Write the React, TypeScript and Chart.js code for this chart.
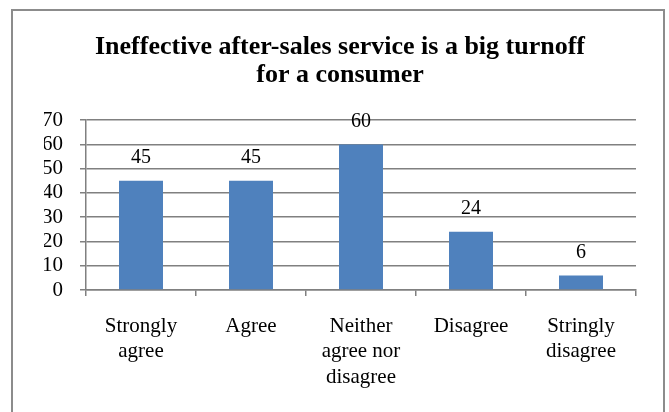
import React, { useEffect, useRef } from "react";
import { Chart, registerables } from "chart.js";

Chart.register(...registerables);

const titleLines = ["Ineffective after-sales service is a big turnoff", "for a consumer"];
const categories: (string | string[])[] = [
  ["Strongly", "agree"],
  "Agree",
  ["Neither", "agree nor", "disagree"],
  "Disagree",
  ["Stringly", "disagree"],
];
const values = [45, 45, 60, 24, 6];
const yMin = 0;
const yMax = 70;
const yStep = 10;

const FONT = "'Liberation Serif', 'Times New Roman', Times, serif";

const valueLabels = {
  id: "valueLabels",
  afterDatasetsDraw(chart: any) {
    const ctx = chart.ctx;
    const meta = chart.getDatasetMeta(0);
    ctx.save();
    ctx.font = `20px ${FONT}`;
    ctx.fillStyle = "#000";
    ctx.textAlign = "center";
    ctx.textBaseline = "middle";
    meta.data.forEach((bar: any, i: number) => {
      ctx.fillText(String(values[i]), bar.x, bar.y - 23);
    });
    ctx.restore();
  },
};

export default function App() {
  const ref = useRef<HTMLCanvasElement>(null);
  useEffect(() => {
    const chart = new Chart(ref.current!, {
      type: "bar",
      data: {
        labels: categories,
        datasets: [
          {
            data: values,
            backgroundColor: "#4F81BD",
            borderWidth: 0,
            barPercentage: 0.4,
            categoryPercentage: 1,
          },
        ],
      },
      options: {
        responsive: false,
        animation: false,
        layout: { padding: { left: 44, right: 33, top: 0, bottom: 0 } },
        plugins: {
          legend: { display: false },
          tooltip: { enabled: false },
          title: {
            display: true,
            text: titleLines,
            color: "#000",
            font: { family: FONT, size: 26, weight: "bold", lineHeight: 1.08 },
            padding: { top: 33, bottom: 31 },
          },
        },
        scales: {
          x: {
            afterFit(scale: any) {
              scale.height = 122;
            },
            grid: {
              offset: true,
              drawOnChartArea: false,
              drawTicks: true,
              tickLength: 6,
              color: "#808080",
              lineWidth: 1.5,
            },
            border: { color: "#808080", width: 1.5 },
            ticks: {
              color: "#000",
              font: { family: FONT, size: 21, lineHeight: 1.2 },
              padding: 18,
              maxRotation: 0,
              autoSkip: false,
            },
          },
          y: {
            min: yMin,
            max: yMax,
            afterFit(scale: any) {
              scale.width = 42;
            },
            grid: {
              color: "#808080",
              lineWidth: 1.5,
              tickLength: 6,
            },
            border: { color: "#808080", width: 1.5 },
            ticks: {
              stepSize: yStep,
              autoSkip: false,
              color: "#000",
              font: { family: FONT, size: 21 },
              padding: 17,
            },
          },
        },
      },
      plugins: [valueLabels],
    });
    return () => chart.destroy();
  }, []);
  return (
    <div style={{ position: "fixed", left: 0, top: 0, width: 669, height: 412, background: "#fff", overflow: "hidden" }}>
      <canvas ref={ref} width={669} height={412} style={{ position: "absolute", left: 0, top: 0 }} />
      <div
        style={{
          position: "absolute",
          left: 11,
          top: 9,
          width: 650,
          height: 420,
          border: "2px solid #8c8c8c",
          pointerEvents: "none",
        }}
      />
    </div>
  );
}
